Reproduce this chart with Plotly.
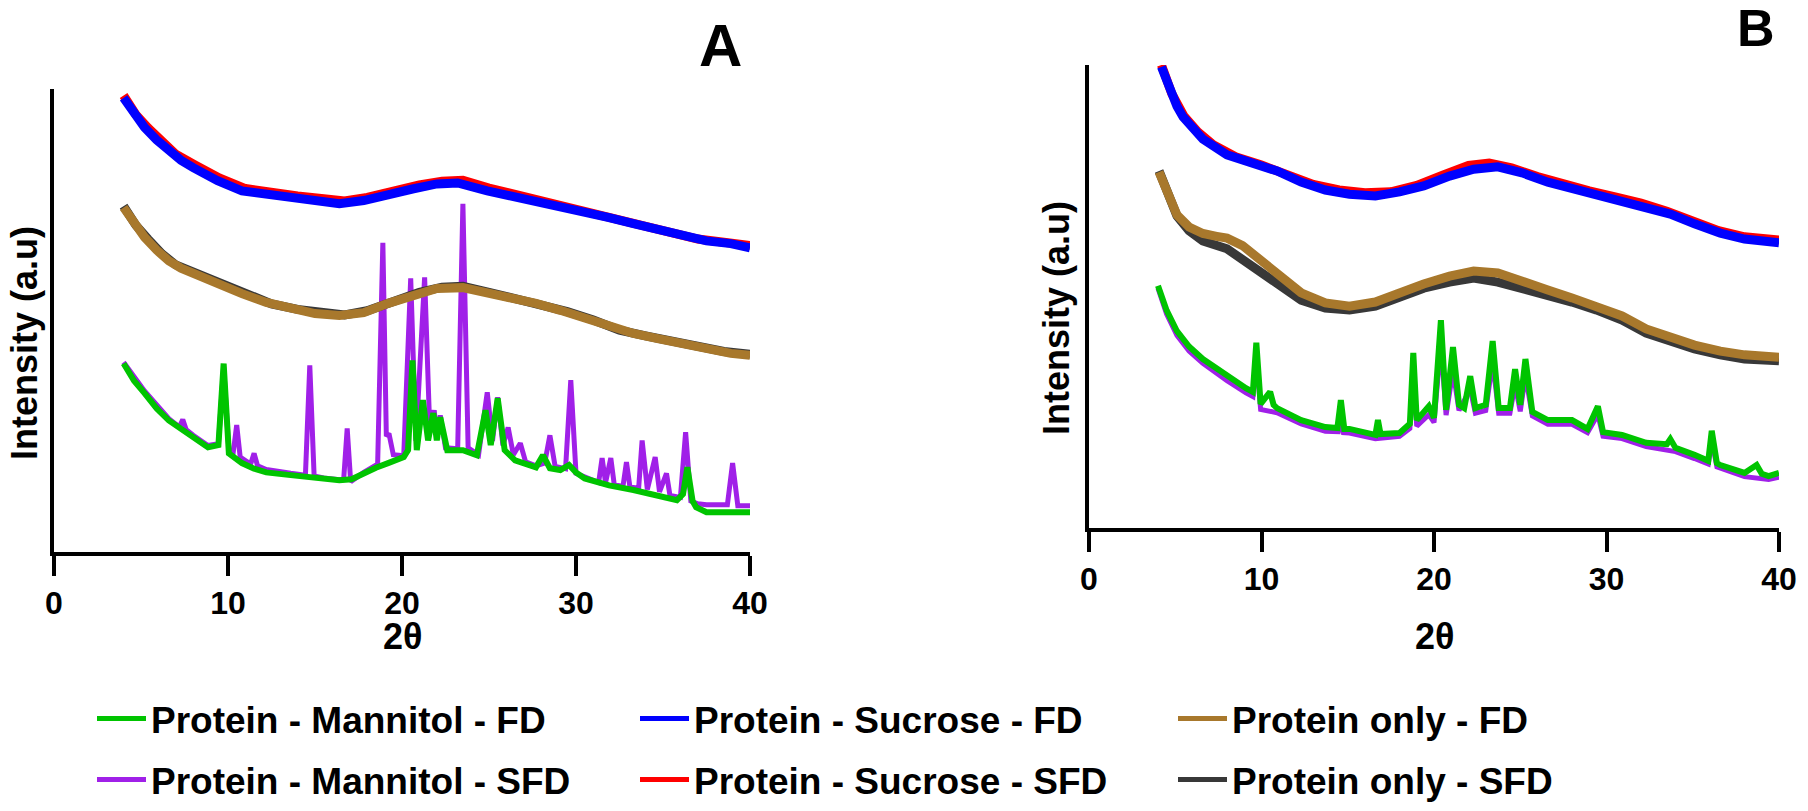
import plotly.graph_objects as go

W, H = 1808, 811

# ---------------- Panel A data (2θ, intensity a.u.) ----------------
sucFD_A_x = [4.0, 4.6, 5.2, 5.9, 6.6, 7.3, 8.0, 9.4, 10.8, 12.2, 13.6, 15.0, 16.4, 17.8, 19.2, 20.6, 22.0, 23.2, 24.9, 26.3, 27.7, 29.1, 30.5, 31.9, 33.3, 34.7, 36.1, 37.5, 38.9, 40.0]
sucFD_A_y = [98.1, 94.6, 91.7, 89.0, 86.6, 84.6, 83.0, 80.2, 78.0, 77.4, 76.6, 75.9, 75.2, 75.9, 77.4, 78.4, 79.5, 79.7, 78.0, 76.9, 75.9, 74.8, 73.7, 72.2, 70.9, 69.8, 68.3, 67.2, 66.6, 65.7]
sucSFD_A_x = [4.0, 4.7, 5.4, 6.2, 7.0, 8.1, 9.5, 11.0, 12.5, 14.0, 15.5, 16.7, 18.0, 19.5, 21.0, 22.3, 23.5, 25.0, 26.5, 28.0, 29.5, 31.0, 32.5, 34.0, 35.5, 37.0, 38.5, 40.0]
sucSFD_A_y = [98.6, 94.5, 91.6, 88.6, 85.9, 83.6, 80.8, 78.5, 77.6, 76.9, 76.3, 75.8, 76.6, 78.2, 79.3, 80.1, 80.3, 78.6, 77.2, 76.1, 74.9, 73.4, 71.8, 70.4, 68.9, 67.6, 66.9, 66.2]

protFD_A_x = [4.0, 4.6, 5.2, 5.9, 6.6, 7.3, 8.0, 9.4, 10.8, 12.2, 13.6, 15.0, 16.4, 17.8, 19.2, 20.6, 22.0, 23.5, 24.9, 26.3, 27.7, 29.1, 30.5, 31.9, 33.3, 34.7, 36.1, 37.5, 38.9, 40.0]
protFD_A_y = [74.4, 71.0, 68.0, 65.2, 62.9, 61.3, 60.1, 58.0, 55.8, 53.9, 52.6, 51.5, 51.1, 51.7, 53.7, 55.4, 56.9, 57.1, 56.0, 54.7, 53.7, 52.2, 50.6, 48.5, 47.2, 46.1, 45.0, 44.0, 42.9, 42.5]
protSFD_A_x = [4.0, 4.7, 5.4, 6.2, 7.0, 8.1, 9.5, 11.0, 12.5, 14.0, 15.5, 16.7, 18.0, 19.5, 21.0, 22.3, 23.5, 25.0, 26.5, 28.0, 29.5, 31.0, 32.5, 34.0, 35.5, 37.0, 38.5, 40.0]
protSFD_A_y = [74.7, 70.6, 67.6, 64.4, 62.0, 60.3, 58.1, 55.7, 53.6, 52.4, 51.5, 51.2, 52.1, 54.3, 56.1, 57.2, 57.4, 56.1, 54.7, 53.4, 51.9, 50.1, 47.9, 46.7, 45.5, 44.4, 43.3, 42.7]

manFD_A_x = [4.0, 4.6, 5.2, 5.9, 6.6, 7.3, 8.0, 8.85, 9.45, 9.75, 10.05, 10.8, 11.5, 12.2, 13.6, 15.0, 16.4, 17.1, 17.8, 18.5, 19.2, 20.1, 20.35, 20.6, 20.85, 21.2, 21.5, 21.8, 22.0, 22.2, 22.6, 23.5, 24.3, 24.8, 25.1, 25.5, 25.9, 26.5, 27.7, 28.1, 28.5, 29.1, 29.6, 30.0, 30.5, 31.9, 33.3, 34.7, 35.8, 36.15, 36.4, 36.7, 36.9, 37.5, 38.9, 40.0]
manFD_A_y = [40.7, 37.0, 34.3, 31.0, 28.4, 26.5, 24.8, 22.6, 23.1, 40.7, 21.3, 19.2, 18.0, 17.2, 16.6, 15.9, 15.5, 15.7, 17.0, 18.2, 19.2, 20.5, 22.0, 41.4, 22.0, 32.8, 24.1, 30.0, 24.1, 29.1, 22.0, 22.0, 20.9, 30.6, 23.1, 33.2, 22.0, 19.8, 18.3, 20.9, 18.1, 17.7, 18.8, 17.2, 15.9, 14.4, 13.4, 12.3, 11.2, 12.5, 18.3, 11.0, 9.7, 8.6, 8.6, 8.6]

manSFD_A_x = [4.0, 5.2, 6.6, 7.2, 7.4, 7.6, 8.0, 8.85, 9.45, 9.75, 10.05, 10.3, 10.5, 10.7, 11.3, 11.5, 11.7, 12.2, 13.6, 14.45, 14.7, 14.95, 15.5, 16.4, 16.65, 16.85, 17.05, 17.8, 18.6, 18.9, 19.1, 19.25, 19.5, 20.1, 20.5, 20.8, 21.3, 21.6, 21.85, 22.0, 22.2, 22.5, 23.2, 23.5, 23.8, 24.4, 24.9, 25.2, 25.5, 25.8, 26.1, 26.4, 26.8, 27.1, 27.7, 28.2, 28.5, 28.8, 29.4, 29.7, 30.0, 30.5, 31.3, 31.5, 31.7, 32.0, 32.2, 32.7, 32.9, 33.1, 33.6, 33.8, 34.1, 34.55, 34.8, 35.2, 35.4, 36.0, 36.3, 36.6, 37.0, 37.5, 38.7, 39.0, 39.3, 40.0]
manSFD_A_y = [41.0, 34.8, 28.8, 27.0, 28.6, 26.4, 25.2, 23.0, 23.4, 40.0, 22.0, 21.5, 27.4, 20.5, 19.0, 21.3, 18.6, 17.8, 17.0, 16.6, 40.3, 16.4, 16.0, 15.6, 15.8, 26.7, 15.2, 17.2, 19.0, 66.8, 25.0, 25.6, 21.0, 20.8, 59.1, 24.0, 59.3, 26.0, 30.6, 25.0, 29.5, 22.5, 22.3, 75.2, 22.5, 21.0, 34.5, 24.0, 33.4, 23.0, 26.9, 21.0, 23.5, 19.5, 18.6, 19.2, 25.2, 18.5, 18.0, 37.1, 17.0, 16.2, 15.0, 20.3, 15.0, 20.3, 14.5, 14.2, 19.4, 14.0, 13.8, 24.1, 13.5, 20.5, 13.0, 17.0, 12.2, 11.8, 25.9, 11.0, 10.4, 10.2, 10.2, 19.2, 10.0, 10.0]

# ---------------- Panel B data ----------------
sucFD_B_x = [4.2, 4.7, 5.1, 5.45, 6.0, 6.6, 8.0, 9.4, 10.9, 12.3, 13.7, 15.1, 16.6, 18.0, 19.4, 20.9, 22.3, 23.7, 25.1, 26.6, 28.0, 29.4, 30.9, 32.3, 33.7, 35.1, 36.6, 38.0, 40.0]
sucFD_B_y = [99.6, 94.5, 91.1, 88.8, 86.2, 84.0, 80.6, 78.8, 77.1, 74.7, 73.0, 72.1, 71.7, 72.6, 73.9, 76.0, 77.5, 78.0, 76.7, 74.7, 73.4, 72.1, 70.8, 69.5, 67.8, 65.7, 63.7, 62.4, 61.6]
sucSFD_B_x = [4.2, 4.8, 5.5, 6.3, 7.2, 8.5, 10.0, 11.5, 13.0, 14.5, 16.0, 17.5, 19.0, 20.5, 22.0, 23.2, 24.5, 26.0, 27.5, 29.0, 30.5, 32.0, 33.5, 35.0, 36.5, 38.0, 40.0]
sucSFD_B_y = [100.0, 93.8, 89.0, 85.6, 82.8, 80.2, 78.4, 76.4, 74.2, 73.0, 72.4, 72.6, 74.0, 76.2, 78.3, 78.8, 77.8, 75.9, 74.2, 72.8, 71.5, 70.2, 68.4, 66.3, 64.2, 62.9, 62.2]

protFD_B_x = [4.06, 4.6, 5.1, 5.8, 6.6, 7.4, 8.0, 8.9, 9.7, 10.9, 12.3, 13.7, 15.1, 16.6, 18.0, 19.4, 20.9, 22.3, 23.7, 25.1, 26.6, 28.0, 29.4, 30.9, 32.3, 33.7, 35.1, 36.6, 38.0, 40.0]
protFD_B_y = [76.9, 71.5, 67.6, 65.0, 63.6, 63.0, 62.6, 61.0, 58.7, 55.1, 50.8, 48.6, 47.9, 48.8, 51.0, 52.7, 54.4, 55.5, 55.1, 53.1, 51.4, 49.7, 47.9, 45.8, 43.0, 41.3, 39.5, 38.2, 37.4, 36.9]
protSFD_B_x = [4.06, 4.6, 5.1, 5.8, 6.6, 8.0, 9.4, 10.9, 12.3, 13.7, 15.1, 16.6, 18.0, 19.4, 20.9, 22.3, 23.7, 25.1, 26.6, 28.0, 29.4, 30.9, 32.3, 33.7, 35.1, 36.6, 38.0, 40.0]
protSFD_B_y = [77.1, 71.4, 67.4, 64.2, 62.0, 60.3, 56.8, 53.1, 49.2, 47.5, 47.1, 47.9, 49.7, 51.8, 53.1, 54.0, 53.1, 51.8, 50.5, 48.8, 47.1, 44.9, 42.1, 40.4, 38.7, 37.4, 36.5, 36.1]

manFD_B_x = [4.0, 4.5, 5.1, 5.8, 6.6, 8.0, 9.1, 9.5, 9.7, 9.95, 10.5, 10.7, 10.9, 12.3, 13.7, 14.4, 14.6, 14.8, 15.1, 16.6, 16.75, 16.9, 18.0, 18.6, 18.8, 19.0, 19.7, 20.0, 20.4, 20.7, 21.1, 21.45, 21.75, 22.1, 22.4, 23.0, 23.4, 23.75, 24.4, 24.7, 25.0, 25.3, 25.6, 25.7, 26.6, 28.0, 28.9, 29.5, 29.8, 30.9, 32.3, 33.5, 33.7, 34.0, 35.1, 35.9, 36.1, 36.4, 36.6, 38.0, 38.7, 39.0, 39.4, 40.0]
manFD_B_y = [52.3, 47.0, 42.5, 39.2, 36.5, 32.8, 30.2, 29.4, 40.0, 26.8, 29.4, 26.6, 25.9, 23.3, 21.8, 21.6, 27.6, 21.4, 21.4, 20.1, 23.3, 20.3, 20.5, 22.5, 37.8, 23.3, 26.3, 23.8, 44.9, 25.5, 39.1, 26.6, 25.9, 32.8, 25.9, 26.6, 40.4, 25.9, 25.9, 34.3, 26.6, 36.5, 26.6, 25.1, 23.3, 23.3, 21.4, 26.3, 20.7, 20.1, 18.4, 18.1, 19.2, 17.3, 15.8, 14.5, 21.0, 14.0, 13.6, 11.9, 13.6, 11.7, 11.2, 11.9]
manSFD_B_x = [4.0, 4.5, 5.1, 5.8, 6.6, 8.0, 9.1, 9.5, 9.7, 9.95, 10.9, 12.3, 13.7, 14.45, 14.6, 14.75, 15.1, 16.6, 18.0, 18.6, 18.8, 19.0, 19.7, 20.0, 20.4, 20.7, 21.1, 21.45, 22.1, 22.4, 23.0, 23.4, 23.75, 24.4, 24.7, 25.0, 25.3, 25.7, 26.6, 28.0, 28.9, 29.5, 29.8, 30.9, 32.3, 34.0, 35.1, 35.9, 36.1, 36.4, 38.0, 39.4, 40.0]
manSFD_B_y = [51.8, 46.2, 41.6, 38.2, 35.6, 31.8, 29.2, 28.4, 37.0, 25.6, 24.9, 22.5, 20.9, 20.8, 24.0, 20.6, 20.5, 19.3, 19.8, 21.5, 33.0, 22.0, 24.5, 22.8, 40.0, 24.4, 34.0, 25.4, 30.0, 24.8, 25.4, 36.0, 24.8, 24.8, 31.0, 25.2, 33.0, 24.2, 22.4, 22.4, 20.6, 24.5, 19.8, 19.3, 17.6, 16.5, 15.0, 13.8, 19.0, 13.2, 11.1, 10.5, 11.0]

tick_vals = [0, 10, 20, 30, 40]
tick_text = ["0", "10", "20", "30", "40"]

names = ["Protein - Mannitol - FD", "Protein - Mannitol - SFD",
         "Protein - Sucrose - FD", "Protein - Sucrose - SFD",
         "Protein only - FD", "Protein only - SFD"]
colors = {"manFD": "#00C400", "manSFD": "#A020E8", "sucFD": "#0000FF",
          "sucSFD": "#FF0000", "protFD": "#A8782C", "protSFD": "#383838"}
widths = {"manFD": 6, "manSFD": 5, "sucFD": 9, "sucSFD": 9, "protFD": 9, "protSFD": 9}
legend_ids = {"manFD": "legend", "manSFD": "legend2", "sucFD": "legend3",
              "sucSFD": "legend4", "protFD": "legend5", "protSFD": "legend6"}
labels = {"manFD": names[0], "manSFD": names[1], "sucFD": names[2],
          "sucSFD": names[3], "protFD": names[4], "protSFD": names[5]}

panelA = {"manSFD": (manSFD_A_x, manSFD_A_y), "manFD": (manFD_A_x, manFD_A_y),
          "sucSFD": (sucSFD_A_x, sucSFD_A_y), "sucFD": (sucFD_A_x, sucFD_A_y),
          "protSFD": (protSFD_A_x, protSFD_A_y), "protFD": (protFD_A_x, protFD_A_y)}
panelB = {"manSFD": (manSFD_B_x, manSFD_B_y), "manFD": (manFD_B_x, manFD_B_y),
          "sucSFD": (sucSFD_B_x, sucSFD_B_y), "sucFD": (sucFD_B_x, sucFD_B_y),
          "protSFD": (protSFD_B_x, protSFD_B_y), "protFD": (protFD_B_x, protFD_B_y)}

fig = go.Figure()
for key, (xs, ys) in panelA.items():
    fig.add_trace(go.Scatter(x=xs, y=ys, mode="lines", name=labels[key],
                             line=dict(color=colors[key], width=widths[key]),
                             xaxis="x", yaxis="y", showlegend=False))
for key, (xs, ys) in panelB.items():
    fig.add_trace(go.Scatter(x=xs, y=ys, mode="lines", name=labels[key],
                             line=dict(color=colors[key], width=widths[key]),
                             xaxis="x2", yaxis="y2", showlegend=False))
# legend entries (thin sample lines as in the reference legend)
for key in ["manFD", "manSFD", "sucFD", "sucSFD", "protFD", "protSFD"]:
    fig.add_trace(go.Scatter(x=[None], y=[None], mode="lines", name=labels[key],
                             line=dict(color=colors[key], width=5),
                             xaxis="x", yaxis="y", legend=legend_ids[key],
                             showlegend=True))

FONT = "Arial, Liberation Sans, sans-serif"

def px(x):
    return x / W

def py(y):
    return 1 - y / H

xax = dict(range=[0, 40], tickvals=tick_vals, ticktext=tick_text, showgrid=False,
           zeroline=False, showline=True, linecolor="black", linewidth=4,
           ticks="outside", ticklen=20, tickwidth=4, tickcolor="black",
           tickfont=dict(family=FONT, size=32, color="black", weight="bold"),
           ticklabelstandoff=0, fixedrange=True, automargin=False)
yax = dict(range=[0, 100], showgrid=False, zeroline=False, showline=True,
           linecolor="black", linewidth=4, ticks="", showticklabels=False,
           fixedrange=True, automargin=False)

fig.update_layout(
    width=W, height=H, autosize=False,
    margin=dict(l=0, r=0, t=0, b=0, pad=0, autoexpand=False),
    paper_bgcolor="white", plot_bgcolor="white",
    xaxis=dict(domain=[px(54), px(750)], anchor="y", **xax),
    yaxis=dict(domain=[py(552), py(89)], anchor="x", **yax),
    xaxis2=dict(domain=[px(1089), px(1779)], anchor="y2", **xax),
    yaxis2=dict(domain=[py(528), py(65)], anchor="x2", **yax),
)

leg_common = dict(orientation="h", xanchor="left", yanchor="middle",
                  font=dict(family=FONT, size=37, color="black", weight="bold"),
                  bgcolor="rgba(0,0,0,0)", borderwidth=0, itemwidth=49,
                  itemclick=False, itemdoubleclick=False)
row1, row2 = py(719), py(780)
col_x = [92, 635, 1173]
fig.update_layout(
    legend=dict(x=px(col_x[0]), y=row1, **leg_common),
    legend2=dict(x=px(col_x[0]), y=row2, **leg_common),
    legend3=dict(x=px(col_x[1]), y=row1, **leg_common),
    legend4=dict(x=px(col_x[1]), y=row2, **leg_common),
    legend5=dict(x=px(col_x[2]), y=row1, **leg_common),
    legend6=dict(x=px(col_x[2]), y=row2, **leg_common),
)

ann_font = dict(family=FONT, color="black", weight="bold")
fig.add_annotation(x=px(720), y=py(45), xref="paper", yref="paper", text="A",
                   showarrow=False, font=dict(size=60, **ann_font),
                   xanchor="center", yanchor="middle")
fig.add_annotation(x=px(1756), y=py(28), xref="paper", yref="paper", text="B",
                   showarrow=False, font=dict(size=52, **ann_font),
                   xanchor="center", yanchor="middle")
fig.add_annotation(x=px(402), y=py(636), xref="paper", yref="paper", text="2θ",
                   showarrow=False, font=dict(size=36, **ann_font),
                   xanchor="center", yanchor="middle")
fig.add_annotation(x=px(1434), y=py(636), xref="paper", yref="paper", text="2θ",
                   showarrow=False, font=dict(size=36, **ann_font),
                   xanchor="center", yanchor="middle")
fig.add_annotation(x=px(24), y=py(343), xref="paper", yref="paper", text="Intensity (a.u)",
                   showarrow=False, textangle=-90, font=dict(size=36, **ann_font),
                   xanchor="center", yanchor="middle")
fig.add_annotation(x=px(1056), y=py(318), xref="paper", yref="paper", text="Intensity (a.u)",
                   showarrow=False, textangle=-90, font=dict(size=36, **ann_font),
                   xanchor="center", yanchor="middle")

fig.write_html("out.html", config={"displayModeBar": False, "responsive": False},
               post_script="document.body.style.margin='0px';document.body.style.overflow='hidden';")
